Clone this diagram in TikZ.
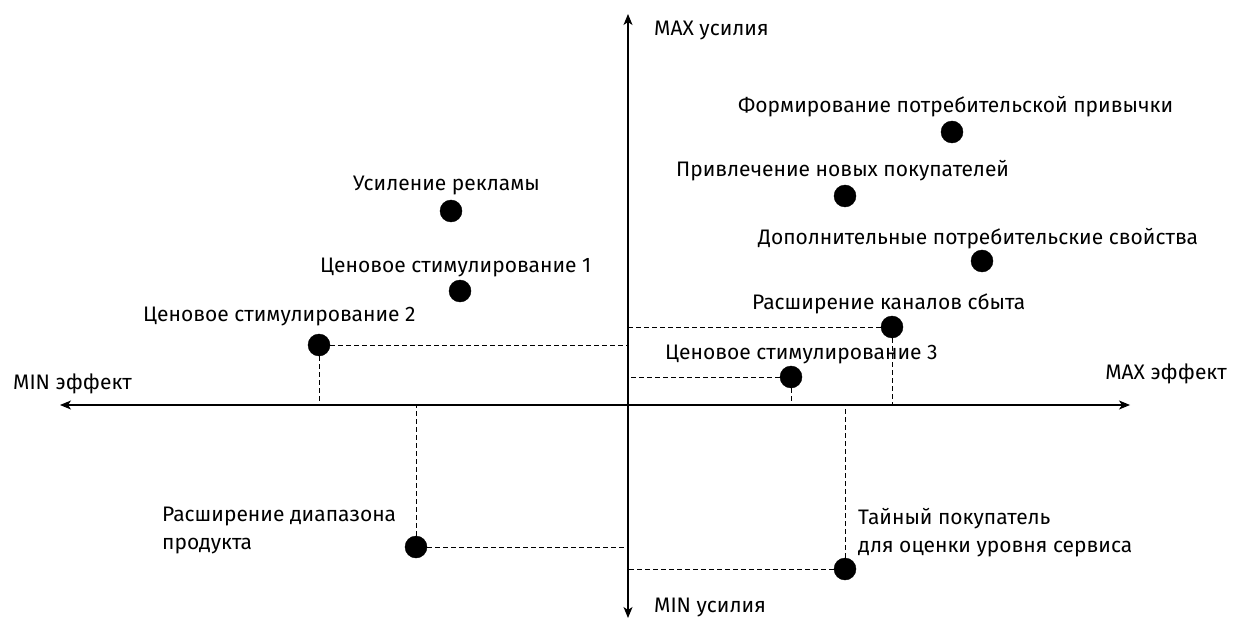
\documentclass[tikz,border=0pt]{standalone}
\usepackage{fontspec}
\setmainfont{Fira Sans}
\usepackage{tikz}
\usetikzlibrary{arrows,arrows.meta,positioning}
\tikzstyle{dot}=[draw,fill=black,circle,minimum size=22pt,inner sep=0pt]
\tikzstyle{lbl}=[inner sep=0pt,anchor=base west,font=\fontsize{21}{28}\selectfont]
\tikzstyle{guide}=[dashed,dash pattern=on 5pt off 3pt,line width=0.9pt]
\tikzstyle{axis}=[line width=1.2pt,-{Stealth[length=11pt,width=9pt,inset=3pt]}]

\begin{document}
\begin{tikzpicture}[x=1pt,y=-1pt]
\useasboundingbox (0,0) rectangle (1238,620);
% axes
\coordinate (o) at (628,405);
\coordinate (top) at (628,14);
\coordinate (bot) at (628,618);
\coordinate (lft) at (60,405);
\coordinate (rgt) at (1130,405);
\draw [axis] (o) -- (top);
\draw [axis] (o) -- (bot);
\draw [axis] (o) -- (lft);
\draw [axis] (o) -- (rgt);
\node [lbl] (maxu) at (654,36) {MAX усилия};
\node [lbl] (minu) at (654,612) {MIN усилия};
\node [lbl] (mine) at (13,389) {MIN эффект};
\node [lbl,anchor=base east] (maxe) at (1227,379) {MAX эффект};

% points
\node [dot] (habit) at (952,132) {};
\node [dot] (buyers) at (845,196) {};
\node [dot] (props) at (982,261) {};
\node [dot] (channels) at (892,327) {};
\node [dot] (price3) at (791,377) {};
\node [dot] (adv) at (451,211) {};
\node [dot] (price1) at (460,291) {};
\node [dot] (price2) at (319,345) {};
\node [dot] (range) at (416,547) {};
\node [dot] (secret) at (845,569) {};

\node [lbl] at (738,113) {Формирование потребительской привычки};
\node [lbl] at (676,177) {Привлечение новых покупателей};
\node [lbl] at (758,244) {Дополнительные потребительские свойства};
\node [lbl] at (752,309) {Расширение каналов сбыта};
\node [lbl] at (665,359) {Ценовое стимулирование 3};
\node [lbl] at (353,191) {Усиление рекламы};
\node [lbl] at (320,272) {Ценовое стимулирование 1};
\node [lbl] at (143,321) {Ценовое стимулирование 2};
\node [lbl,align=left] at (162,549) {Расширение диапазона\\продукта};
\node [lbl,align=left] at (858,552) {Тайный покупатель\\для оценки уровня сервиса};

% projections
\draw [guide] (channels) -- (channels -| o);
\draw [guide] (channels) -- (channels |- o);
\draw [guide] (price3) -- (price3 -| o);
\draw [guide] (price3) -- (price3 |- o);
\draw [guide] (price2) -- (price2 -| o);
\draw [guide] (price2) -- (price2 |- o);
\draw [guide] (range) -- (range -| o);
\draw [guide] (range) -- (range |- o);
\draw [guide] (secret) -- (secret -| o);
\draw [guide] (secret) -- (secret |- o);
\end{tikzpicture}
\end{document}
